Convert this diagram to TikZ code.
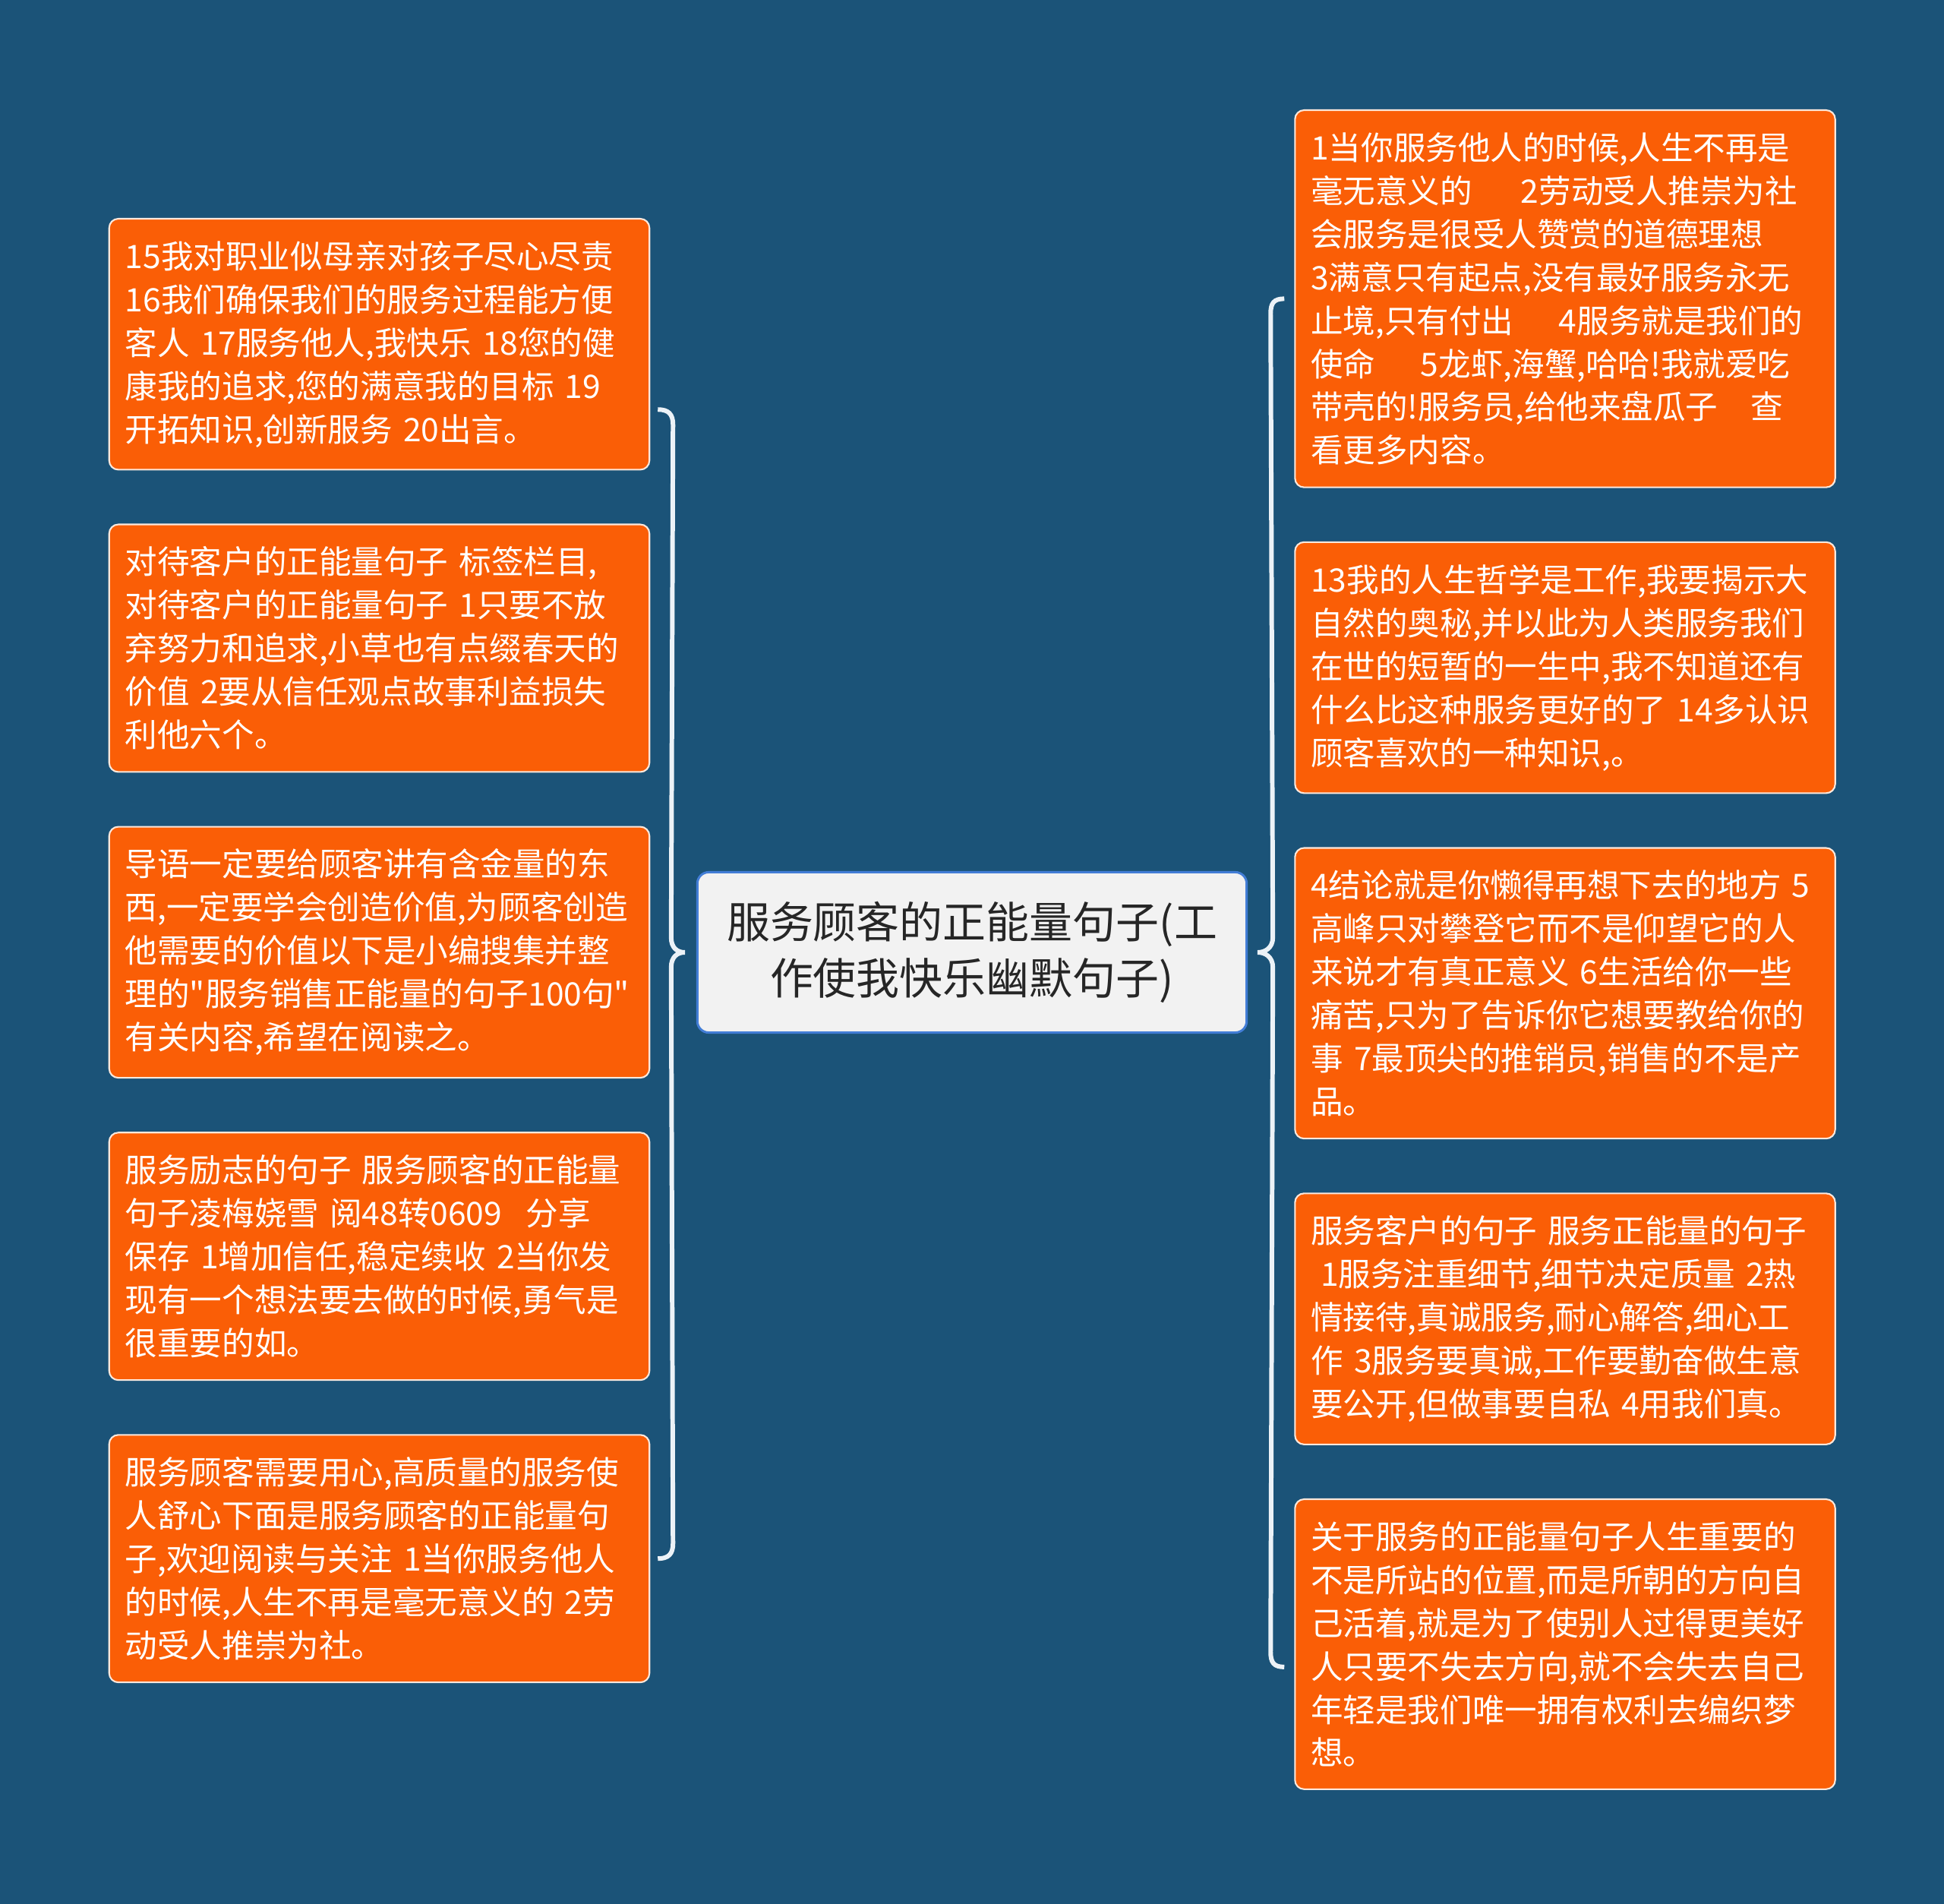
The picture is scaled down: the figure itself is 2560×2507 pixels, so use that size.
\documentclass[tikz,border=0pt]{standalone}
\usepackage{fontspec}
\setmainfont{Noto Sans CJK SC}[Ligatures=TeXOff]
\usepackage{tikz}
\usetikzlibrary{positioning,calc}
\definecolor{bgblue}{RGB}{27,83,120}
\definecolor{boxorange}{RGB}{250,94,6}
\definecolor{boxedge}{RGB}{252,232,220}
\definecolor{rootfill}{RGB}{242,242,242}
\definecolor{rootedge}{RGB}{66,125,214}
\definecolor{bracewhite}{RGB}{236,242,247}

\begin{document}
\begin{tikzpicture}[
  x=0.01cm, y=-0.01cm,
  every node/.style={font=\fontsize{12.1pt}{16.2pt}\selectfont},
  leaf/.style={draw=boxedge, line width=0.6pt, fill=boxorange, text=white, rounded corners=0.12cm, text width=6.69cm, inner xsep=0.21cm, inner ysep=0.292cm, align=left},
  topic/.style={draw=rootedge, line width=0.85pt, fill=rootfill, text=black!85, rounded corners=0.15cm, minimum width=7.23cm, minimum height=2.11cm, align=center, font=\fontsize{16.2pt}{20.9pt}\selectfont},
  linkbrace/.style={draw=bracewhite, line width=1.7pt},
  node distance=0.70cm
]
\fill[bgblue] (0,0) rectangle (2560,2507);

\node[topic] (root) at (1280,1254) {服务顾客的正能量句子(工\\作使我快乐幽默句子)};

\node[leaf, anchor=north] (l1) at (499.5,287) {15我对职业似母亲对孩子尽心尽责\\16我们确保我们的服务过程能方便\\客人~17服务他人,我快乐~18您的健\\康我的追求,您的满意我的目标~19\\开拓知识,创新服务~20出言。};
\node[leaf, below=of l1] (l2) {对待客户的正能量句子~标签栏目,\\对待客户的正能量句子~1只要不放\\弃努力和追求,小草也有点缀春天的\\价值~2要从信任观点故事利益损失\\利他六个。};
\node[leaf, below=of l2] (l3) {导语一定要给顾客讲有含金量的东\\西,一定要学会创造价值,为顾客创造\\他需要的价值以下是小编搜集并整\\理的"服务销售正能量的句子100句"\\有关内容,希望在阅读之。};
\node[leaf, below=of l3] (l4) {服务励志的句子~服务顾客的正能量\\句子凌梅娆雪~阅48转0609\hspace{0.75em}分享\\保存~1增加信任,稳定续收~2当你发\\现有一个想法要去做的时候,勇气是\\很重要的如。};
\node[leaf, below=of l4] (l5) {服务顾客需要用心,高质量的服务使\\人舒心下面是服务顾客的正能量句\\子,欢迎阅读与关注~1当你服务他人\\的时候,人生不再是毫无意义的~2劳\\动受人推崇为社。};

\node[leaf, anchor=north] (r1) at (2061,144) {1当你服务他人的时候,人生不再是\\毫无意义的\hspace{1.5em}2劳动受人推崇为社\\会服务是很受人赞赏的道德理想\\3满意只有起点,没有最好服务永无\\止境,只有付出\hspace{1.4em}4服务就是我们的\\使命\hspace{1.4em}5龙虾,海蟹,哈哈!我就爱吃\\带壳的!服务员,给他来盘瓜子\hspace{1em}查\\看更多内容。};
\node[leaf, below=of r1] (r2) {13我的人生哲学是工作,我要揭示大\\自然的奥秘,并以此为人类服务我们\\在世的短暂的一生中,我不知道还有\\什么比这种服务更好的了~14多认识\\顾客喜欢的一种知识,。};
\node[leaf, below=of r2] (r3) {4结论就是你懒得再想下去的地方~5\\高峰只对攀登它而不是仰望它的人\\来说才有真正意义~6生活给你一些\\痛苦,只为了告诉你它想要教给你的\\事~7最顶尖的推销员,销售的不是产\\品。};
\node[leaf, below=of r3] (r4) {服务客户的句子~服务正能量的句子\\\hspace*{0.3em}1服务注重细节,细节决定质量~2热\\情接待,真诚服务,耐心解答,细心工\\作~3服务要真诚,工作要勤奋做生意\\要公开,但做事要自私~4用我们真。};
\node[leaf, below=of r4] (r5) {关于服务的正能量句子人生重要的\\不是所站的位置,而是所朝的方向自\\己活着,就是为了使别人过得更美好\\人只要不失去方向,就不会失去自己\\年轻是我们唯一拥有权利去编织梦\\想。};

\coordinate (lt) at ($(l1.east)+(10,86)$);
\coordinate (lb) at ($(l5.east)+(10,0)$);
\coordinate (lm) at ($(root.west)+(-15,0)$);
\coordinate (rt) at ($(r1.west)+(-13,0)$);
\coordinate (rb) at ($(r5.west)+(-13,30)$);
\coordinate (rm) at ($(root.east)+(13,0)$);

\draw[linkbrace] (lt) .. controls +(14,0) and +(0,-14) .. ($(lt)+(20,20)$)
  -- ($(lm)+(-18,-20)$) .. controls +(0,14) and +(-10,0) .. (lm)
  .. controls +(-10,0) and +(0,-14) .. ($(lm)+(-18,20)$)
  -- ($(lb)+(20,-20)$) .. controls +(0,14) and +(14,0) .. (lb);
\draw[linkbrace] (rt) .. controls +(-14,0) and +(0,-14) .. ($(rt)+(-18,20)$)
  -- ($(rm)+(20,-20)$) .. controls +(0,14) and +(10,0) .. (rm)
  .. controls +(10,0) and +(0,-14) .. ($(rm)+(20,20)$)
  -- ($(rb)+(-18,-20)$) .. controls +(0,14) and +(-14,0) .. (rb);
\end{tikzpicture}
\end{document}
